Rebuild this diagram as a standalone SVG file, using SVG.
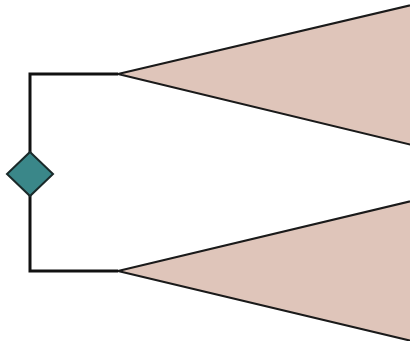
<svg xmlns="http://www.w3.org/2000/svg" width="410" height="341" viewBox="0 0 410 341">
<style>
.fill{fill:#dfc5ba;stroke:none}
.edge{fill:none;stroke:#1a1a1a;stroke-width:2}
.wire{fill:none;stroke:#111;stroke-width:3}
.dia{fill:#3a8789;stroke:#1a2a2a;stroke-width:2}
</style>
<rect width="410" height="341" fill="#fff"/>
<g id="cone-top"><polygon class="fill" points="118,74 420,3 420,147"/><path class="edge" d="M118,74 L420,3 M118,74 L420,147"/></g>
<g id="cone-bottom"><polygon class="fill" points="118,271 420,199 420,343"/><path class="edge" d="M118,271 L420,199 M118,271 L420,343"/></g>
<g id="connectors"><path class="wire" d="M118,74 L30,74 L30,271 L118,271"/></g>
<g id="junction"><polygon class="dia" points="30,152 53,174 30,196 7,174"/></g>
</svg>
